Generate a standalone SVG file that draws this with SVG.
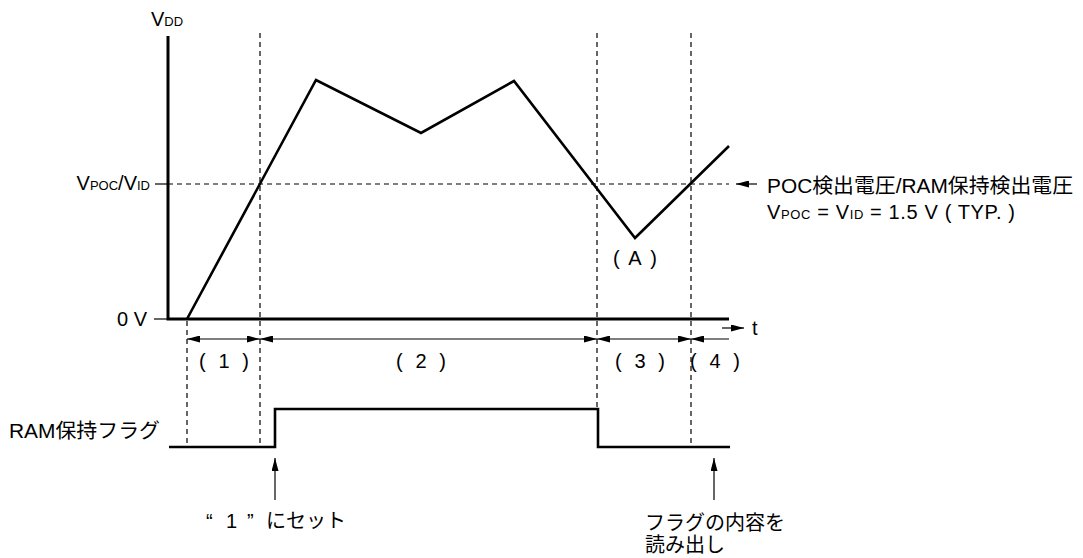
<svg xmlns="http://www.w3.org/2000/svg" width="1083" height="558" viewBox="0 0 1083 558">
<style>
text{font-family:"Liberation Sans","Noto Sans CJK JP",sans-serif;font-size:20px;fill:#000}
.sub{font-size:13px}
.thick{fill:none;stroke:#000;stroke-width:3;stroke-linejoin:miter}
.wave{fill:none;stroke:#000;stroke-width:2.6;stroke-linejoin:miter}
.thin{fill:none;stroke:#000;stroke-width:1.2}
.dash{fill:none;stroke:#000;stroke-width:1.2;stroke-dasharray:5 4}
</style>
<defs>
<marker id="ah" markerWidth="13" markerHeight="7" refX="13" refY="3.5" orient="auto-start-reverse" markerUnits="userSpaceOnUse"><path d="M0,0 L13,3.5 L0,7 z" fill="#000"/></marker>
</defs>
<g id="connectors">
<line class="dash" x1="168" y1="184" x2="729" y2="184"/>
<line class="dash" x1="187" y1="321" x2="187" y2="447"/>
<line class="dash" x1="260" y1="33" x2="260" y2="447"/>
<line class="dash" x1="597" y1="33" x2="597" y2="409"/>
<line class="dash" x1="691" y1="33" x2="691" y2="447"/>
<polyline class="thick" points="168,36 168,319 729,319"/>
<line class="thin" x1="155" y1="184" x2="168" y2="184"/>
<line class="thin" x1="154" y1="319" x2="168" y2="319"/>
<polyline class="wave" points="187,319 316,80 421,133 514,81 635,238 729,146"/>
<polyline class="wave" points="169,447 275,447 275,409 598,409 598,447 730,447"/>
<line class="thin" x1="187" y1="339" x2="260" y2="339" marker-start="url(#ah)" marker-end="url(#ah)"/>
<line class="thin" x1="260" y1="339" x2="597" y2="339" marker-start="url(#ah)" marker-end="url(#ah)"/>
<line class="thin" x1="597" y1="339" x2="691" y2="339" marker-start="url(#ah)" marker-end="url(#ah)"/>
<line class="thin" x1="691" y1="339" x2="729" y2="339" marker-start="url(#ah)"/>
<line class="thin" x1="722" y1="328" x2="744" y2="328" marker-end="url(#ah)"/>
<line class="thin" x1="757" y1="184" x2="736" y2="184" marker-end="url(#ah)"/>
<line class="thin" x1="275" y1="500" x2="275" y2="458" marker-end="url(#ah)"/>
<line class="thin" x1="714" y1="500" x2="714" y2="458" marker-end="url(#ah)"/>
</g>
<g id="label-vdd"><text x="151" y="26">V<tspan class="sub">DD</tspan></text></g>
<g id="label-vpoc"><text x="150" y="190" text-anchor="end">V<tspan class="sub">POC</tspan>/V<tspan class="sub">ID</tspan></text></g>
<g id="label-0v"><text x="147" y="326" text-anchor="end">0 V</text></g>
<g id="label-ramflag"><text x="9" y="438" textLength="151" lengthAdjust="spacingAndGlyphs">RAM保持フラグ</text></g>
<g id="label-detect">
<text x="767" y="193" textLength="306" lengthAdjust="spacingAndGlyphs">POC検出電圧/RAM保持検出電圧</text>
<text x="767" y="219" textLength="248" lengthAdjust="spacing">V<tspan class="sub">POC</tspan> = V<tspan class="sub">ID</tspan> = 1.5 V ( TYP. )</text>
</g>
<g id="label-A"><text x="613 628.3 650.3" y="265">(A)</text></g>
<g id="label-t"><text x="752" y="335">t</text></g>
<g id="period-1"><text x="199 218.5 242.3" y="368">(1)</text></g>
<g id="period-2"><text x="396 415.5 439.3" y="368">(2)</text></g>
<g id="period-3"><text x="615 634.5 658.3" y="368">(3)</text></g>
<g id="period-4"><text x="690 709.5 733.3" y="368">(4)</text></g>
<g id="label-set"><text x="206 226 247" y="528">“1”</text><text x="266" y="528" textLength="80" lengthAdjust="spacingAndGlyphs">にセット</text></g>
<g id="label-read">
<text x="645" y="530">フラグの内容を</text>
<text x="645" y="552">読み出し</text>
</g>
</svg>
